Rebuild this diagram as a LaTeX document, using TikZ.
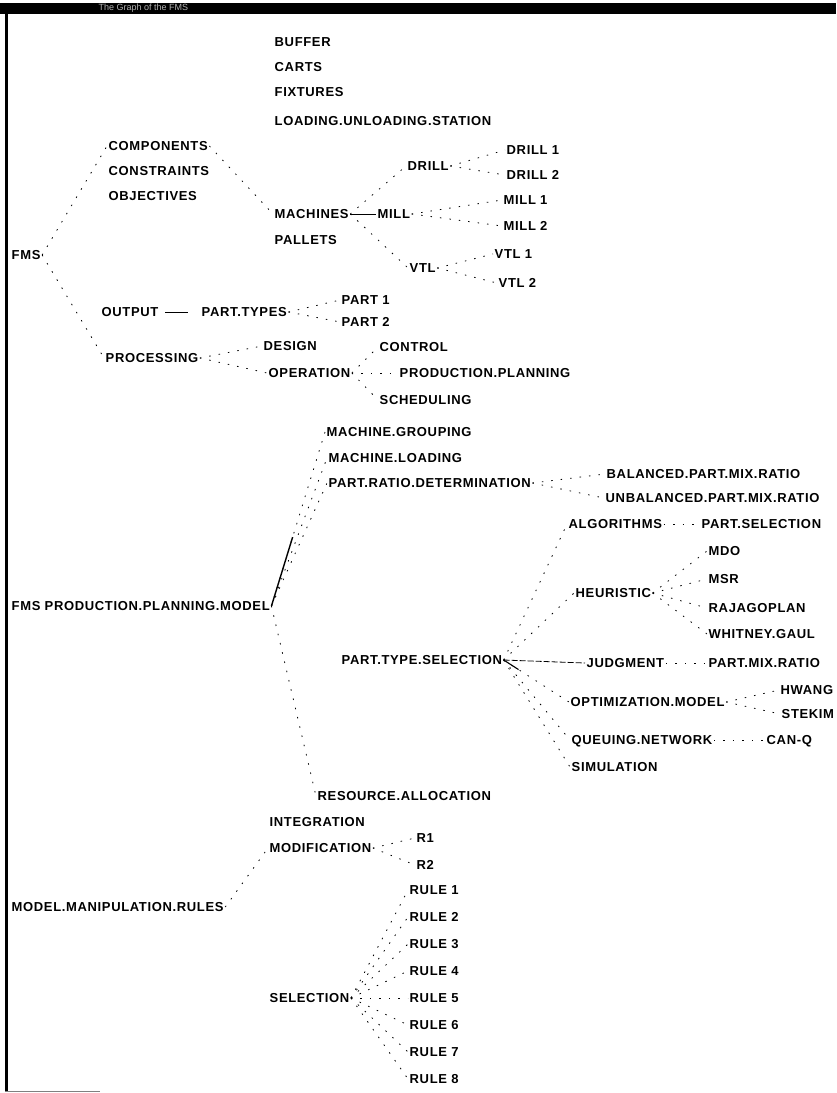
\documentclass[tikz,border=0pt]{standalone}
\usepackage{fontspec}
\setmainfont{Liberation Sans}
\newfontfamily\lblfont{Liberation Sans}[LetterSpace=5]
\tikzset{
  lbl/.style={anchor=west, inner sep=1.5pt, text height=9.5pt, text depth=0pt,
    font=\lblfont\fontsize{13}{15}\selectfont\bfseries},
  link/.style={line width=0.8pt, dash pattern=on 1.5pt off 8pt},
  bar/.style={line width=0.8pt}
}
\begin{document}
\begin{tikzpicture}[x=1pt, y=-1pt]
\useasboundingbox (0,0) rectangle (836,1093);
				% Window
				\fill (0,3) rectangle (836,14);
				\node[anchor=west, text=white!70!black, font=\fontsize{9}{10}\selectfont] (title) at (95,8.5) {The Graph of the FMS};
				\draw[line width=3pt] (6.5,14) -- (6.5,1091);
				\draw[line width=1pt, gray] (5,1091) -- (100,1091);

				% FMS
				\node[lbl] (fms) at (10,255) {FMS};
				\node[lbl] (comp) at (107,146) {COMPONENTS};
				\node[lbl] (cons) at (107,171) {CONSTRAINTS};
				\node[lbl] (obj) at (107,196) {OBJECTIVES};
				\node[lbl] (out) at (100,312) {OUTPUT};
				\node[lbl] (proc) at (104,358) {PROCESSING};

				% Components
				\node[lbl] (buf) at (273,42) {BUFFER};
				\node[lbl] (cart) at (273,67) {CARTS};
				\node[lbl] (fix) at (273,92) {FIXTURES};
				\node[lbl] (load) at (273,121) {LOADING.UNLOADING.STATION};
				\node[lbl] (mach) at (273,214) {MACHINES};
				\node[lbl] (pal) at (273,240) {PALLETS};
				\node[lbl] (drill) at (406,166) {DRILL};
				\node[lbl] (drilla) at (505,150) {DRILL 1};
				\node[lbl] (drillb) at (505,175) {DRILL 2};
				\node[lbl] (mill) at (376,214) {MILL};
				\node[lbl] (milla) at (502,200) {MILL 1};
				\node[lbl] (millb) at (502,226) {MILL 2};
				\node[lbl] (vtl) at (408,268) {VTL};
				\node[lbl] (vtla) at (493,254) {VTL 1};
				\node[lbl] (vtlb) at (497,283) {VTL 2};

				% Output and processing
				\node[lbl] (ptypes) at (200,312) {PART.TYPES};
				\node[lbl] (parta) at (340,300) {PART 1};
				\node[lbl] (partb) at (340,322) {PART 2};
				\node[lbl] (des) at (262,346) {DESIGN};
				\node[lbl] (oper) at (267,373) {OPERATION};
				\node[lbl] (ctrl) at (378,347) {CONTROL};
				\node[lbl] (prodpl) at (398,373) {PRODUCTION.PLANNING};
				\node[lbl] (sched) at (378,400) {SCHEDULING};

				\draw[link] (fms.east) -- (comp.west);
				\draw[link] (fms.east) -- (proc.west);
				\draw[link] (comp.east) -- (mach.west);
				\draw[link] (mach.east) -- (drill.west);
				\draw[bar] (mach.east) -- (mill.west);
				\draw[link] (mach.east) -- (vtl.west);
				\draw[link] (drill.east) -- (drilla.west);
				\draw[link] (drill.east) -- (drillb.west);
				\draw[link] (mill.east) -- (milla.west);
				\draw[link] (mill.east) -- (millb.west);
				\draw[link] (vtl.east) -- (vtla.west);
				\draw[link] (vtl.east) -- (vtlb.west);
				\draw[bar, shorten <=5pt, shorten >=12pt] (out.east) -- (ptypes.west);
				\draw[link] (ptypes.east) -- (parta.west);
				\draw[link] (ptypes.east) -- (partb.west);
				\draw[link] (proc.east) -- (des.west);
				\draw[link] (proc.east) -- (oper.west);
				\draw[link] (oper.east) -- (ctrl.west);
				\draw[link] (oper.east) -- (prodpl.west);
				\draw[link] (oper.east) -- (sched.west);

				% Production planning model
				\node[lbl] (fppm) at (10,606) {FMS PRODUCTION.PLANNING.MODEL};
				\node[lbl] (mgroup) at (325,432) {MACHINE.GROUPING};
				\node[lbl] (mload) at (327,458) {MACHINE.LOADING};
				\node[lbl] (prd) at (327,483) {PART.RATIO.DETERMINATION};
				\node[lbl] (bal) at (605,474) {BALANCED.PART.MIX.RATIO};
				\node[lbl] (unbal) at (604,498) {UNBALANCED.PART.MIX.RATIO};
				\node[lbl] (pts) at (340,660) {PART.TYPE.SELECTION};
				\node[lbl] (alg) at (567,524) {ALGORITHMS};
				\node[lbl] (psel) at (700,524) {PART.SELECTION};
				\node[lbl] (heur) at (574,593) {HEURISTIC};
				\node[lbl] (mdo) at (707,551) {MDO};
				\node[lbl] (msr) at (707,579) {MSR};
				\node[lbl] (raja) at (707,608) {RAJAGOPLAN};
				\node[lbl] (whit) at (707,634) {WHITNEY.GAUL};
				\node[lbl] (judg) at (585,663) {JUDGMENT};
				\node[lbl] (pmix) at (707,663) {PART.MIX.RATIO};
				\node[lbl] (optm) at (569,702) {OPTIMIZATION.MODEL};
				\node[lbl] (hwang) at (779,690) {HWANG};
				\node[lbl] (stek) at (780,714) {STEKIM};
				\node[lbl] (queu) at (570,740) {QUEUING.NETWORK};
				\node[lbl] (canq) at (765,740) {CAN-Q};
				\node[lbl] (simu) at (570,767) {SIMULATION};
				\node[lbl] (res) at (316,796) {RESOURCE.ALLOCATION};

				\draw[line width=1.4pt, shorten >=110pt] (fppm.east) -- (mgroup.west);
				\draw[link] (fppm.east) -- (mgroup.west);
				\draw[link] (fppm.east) -- (mload.west);
				\draw[link] (fppm.east) -- (prd.west);
				\draw[link] (fppm.east) -- (res.west);
				\draw[link] (prd.east) -- (bal.west);
				\draw[link] (prd.east) -- (unbal.west);
				\draw[link] (pts.east) -- (alg.west);
				\draw[link] (pts.east) -- (heur.west);
				\draw[bar, dash pattern=on 6pt off 2pt] (pts.east) -- (judg.west);
				\draw[line width=1.1pt, shorten >=60pt] (pts.east) -- (optm.west);
				\draw[link] (pts.east) -- (optm.west);
				\draw[link] (pts.east) -- (queu.west);
				\draw[link] (pts.east) -- (simu.west);
				\draw[link] (alg.east) -- (psel.west);
				\draw[link] (heur.east) -- (mdo.west);
				\draw[link] (heur.east) -- (msr.west);
				\draw[link] (heur.east) -- (raja.west);
				\draw[link] (heur.east) -- (whit.west);
				\draw[link] (judg.east) -- (pmix.west);
				\draw[link] (optm.east) -- (hwang.west);
				\draw[link] (optm.east) -- (stek.west);
				\draw[link] (queu.east) -- (canq.west);

				% Manipulation rules
				\node[lbl] (mmr) at (10,907) {MODEL.MANIPULATION.RULES};
				\node[lbl] (integ) at (268,822) {INTEGRATION};
				\node[lbl] (modif) at (268,848) {MODIFICATION};
				\node[lbl] (sel) at (268,998) {SELECTION};
				\node[lbl] (ra) at (415,838) {R1};
				\node[lbl] (rb) at (415,865) {R2};
				\foreach \i/\y in {1/890,2/917,3/944,4/971,5/998,6/1025,7/1052,8/1079}
					\node[lbl] (rule\i) at (408,\y) {RULE \i};

				\draw[link] (mmr.east) -- (modif.west);
				\draw[link] (modif.east) -- (ra.west);
				\draw[link] (modif.east) -- (rb.west);
				\foreach \i in {1,...,8}
					\draw[link] (sel.east) -- (rule\i.west);
\end{tikzpicture}
\end{document}
